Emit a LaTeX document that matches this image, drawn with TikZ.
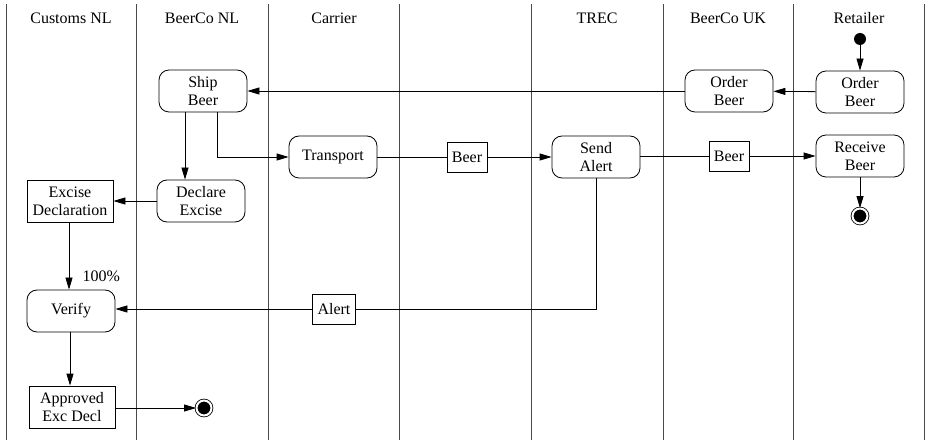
\documentclass[tikz,border=0pt]{standalone}
\usepackage{fontspec}
\setmainfont{Liberation Serif}
\usetikzlibrary{arrows.meta, positioning, calc}
\definecolor{laneGrey}{HTML}{4A4A4A}
\tikzset{
  lane/.style={draw=laneGrey, line width=1pt},
  lanehead/.style={inner sep=0pt},
  act/.style={draw, line width=0.8pt, rounded corners=10pt, fill=white, align=center,
              minimum width=88pt, minimum height=42pt, inner sep=2pt},
  obj/.style={draw, line width=0.8pt, fill=white, align=center, inner sep=5pt,
              minimum height=30pt},
  startdot/.style={circle, fill=black, minimum size=12pt, inner sep=0pt},
  enddot/.style={circle, fill=black, draw, line width=0.8pt, double=white, double distance=2pt,
                 minimum size=15pt, inner sep=0pt},
  arrow/.style={-{Triangle[length=12pt, width=7pt]}, line width=0.8pt},
  flow/.style={line width=0.8pt},
}
\begin{document}
\begin{tikzpicture}[x=1pt, y=-1pt, font=\fontsize{16}{18}\selectfont]
\useasboundingbox (0,0) rectangle (925,443);
\foreach \x in {6, 136, 268, 399, 531, 663, 793, 924}{
  \draw[lane] (\x,4) -- (\x,440);
}
\foreach \x/\name in {71/Customs NL, 202/BeerCo NL, 334/Carrier, 597/TREC, 728/BeerCo UK, 859/Retailer}{
  \node[lanehead] (head\x) at (\x,18) {\name};
}
\node[startdot] (start) at (860,39) {};
\node[act] (orderret) at (860,92) {Order\\Beer};
\node[act] (orderuk) at (729,91) {Order\\Beer};
\node[act] (shipbeer) at (203,91) {Ship\\Beer};
\node[act] (transport) at (333,157) {Transport};
\node[obj] (beerA) at (467,157) {Beer};
\node[act] (sendalert) at (596,157) {Send\\Alert};
\node[obj] (beerB) at (729,156) {Beer};
\node[act] (receive) at (860,156) {Receive\\Beer};
\node[enddot] (endret) at (860,216) {};
\node[act] (declare) at (201,201) {Declare\\Excise};
\node[obj, minimum width=86pt, minimum height=42pt, inner sep=2pt] (excdecl) at (70,201) {Excise\\Declaration};
\node[act] (verify) at (71,311) {Verify};
\node[obj] (alert) at (334,309) {Alert};
\node[obj, minimum width=86pt, minimum height=42pt, inner sep=2pt] (approved) at (72,407) {Approved\\Exc Decl};
\node[enddot] (endcust) at (204,408) {};
\draw[arrow] (start) -- (orderret);
\draw[arrow] (orderret) -- (orderuk);
\draw[arrow] (orderuk.west |- shipbeer.east) -- (shipbeer.east);
\draw[arrow] ([xshift=-18pt]shipbeer.south) -- ([xshift=-16pt]declare.north);
\draw[arrow] ([xshift=14pt]shipbeer.south) |- (transport.west);
\draw[flow] (transport) -- (beerA);
\draw[arrow] (beerA) -- (sendalert);
\draw[flow] (sendalert.east |- beerB) -- (beerB);
\draw[arrow] (beerB) -- (receive.west |- beerB);
\draw[arrow] (receive) -- (endret);
\draw[arrow] (declare) -- (excdecl);
\draw[arrow] ([xshift=-1pt]excdecl.south) -- node[right=10pt, pos=0.8] (pct) {100\%} ([xshift=-2pt]verify.north);
\draw[flow] (sendalert.south) |- (alert.east);
\draw[arrow] (alert) -- (verify.east |- alert);
\draw[arrow] ([xshift=-1pt]verify.south) -- ([xshift=-1pt]verify.south |- approved.north);
\draw[arrow] (approved.east |- endcust) -- (endcust);
\end{tikzpicture}
\end{document}
